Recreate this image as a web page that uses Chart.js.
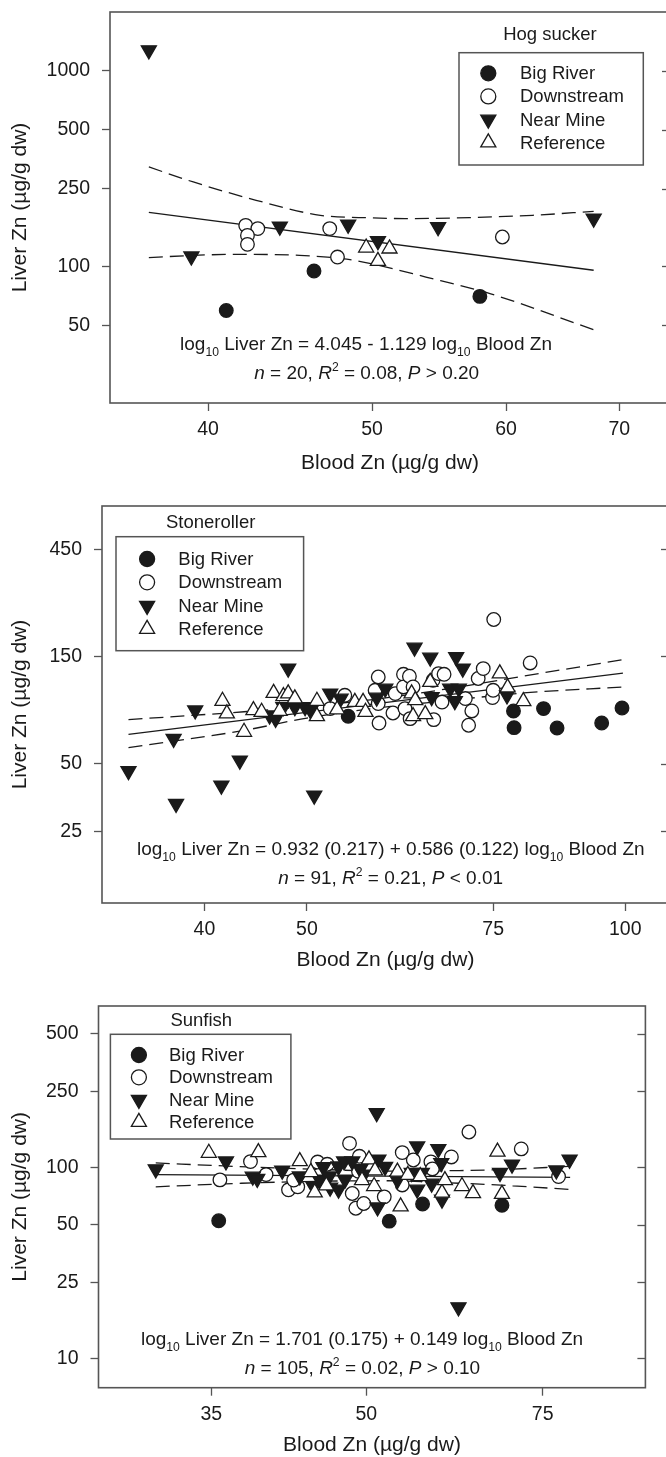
<!DOCTYPE html>
<html><head><meta charset="utf-8">
<script src="https://cdn.jsdelivr.net/npm/chart.js@4.4.1/dist/chart.umd.min.js"></script>
<style>
html,body{margin:0;padding:0;background:#fff;overflow:hidden;width:666px;height:1457px;position:relative;}
canvas{position:absolute;left:0;}
</style></head><body>
<canvas id="c1" width="680" height="485" style="top:0px;width:680px;height:485px"></canvas>
<canvas id="c2" width="680" height="490" style="top:485px;width:680px;height:490px"></canvas>
<canvas id="c3" width="680" height="482" style="top:975px;width:680px;height:482px"></canvas>
<script>
// ---------------- DATA: Hog sucker ----------------
const hogXTicks = [40, 50, 60, 70];
const hogYTicks = [50, 100, 250, 500, 1000];
const hogBigRiver = [[41.0,59.5],[46.2,94.6],[57.9,70.2]];
const hogDownstream = [[42.1,162],[42.8,156],[42.2,144],[42.2,129.6],[47.2,156],[47.7,111.6],[59.7,141.3]];
const hogNearMine = [[36.9,1276],[39.1,112.5],[44.1,160],[48.4,163.5],[50.4,134.8],[54.7,158.9],[67.6,175.5]];
const hogReference = [[49.6,124.6],[50.4,106.4],[51.2,123.2]];
const hogFit = [[36.9,189],[67.6,95.5]];
const hogUpper = [[36.9,322.5],[39.2,270.1],[42.7,217.8],[46.6,182.4],[49.4,177.6],[52.3,175.5],[57.1,177.6],[62.2,182.4],[67.6,191.2]];
const hogLower = [[36.9,110.8],[39.2,113.8],[41.5,115.2],[45.3,113.8],[48.0,109.5],[49.4,105.2],[53.8,88.2],[58.7,72.5],[67.6,47.4]];

// ---------------- DATA: Stoneroller ----------------
const stoneXTicks = [40, 50, 75, 100];
const stoneYTicks = [25, 50, 150, 450];
const stoneBigRiver = [[54.7,81.2],[78.4,85.8],[78.5,72.3],[83.7,87.9],[86.2,72.1],[95.0,75.8],[99.3,88.4]];
const stoneDownstream = [[52.6,87.9],[54.3,100.7],[58.0,106.0],[58.4,121.5],[58.4,92.5],[58.5,75.8],[60.3,84.0],[60.6,102.5],[61.7,124.9],[61.7,109.7],[61.9,87.9],[62.5,122.4],[62.6,79.3],[63.0,109.7],[65.8,117.5],[65.9,78.5],[66.6,125.8],[67.1,94.0],[67.4,124.9],[70.6,97.4],[71.1,74.1],[71.6,85.8],[72.6,119.6],[73.4,132.4],[74.9,98.4],[75.0,106.0],[75.1,218.9],[81.3,140.3]];
const stoneNearMine = [[33.9,46.4],[37.4,64.6],[37.6,33.2],[39.2,86.4],[41.5,40.0],[43.2,51.7],[46.1,82.0],[46.7,79.3],[47.5,89.3],[48.0,132.4],[48.7,89.3],[49.8,89.3],[50.4,86.4],[50.8,36.1],[52.6,102.5],[53.8,97.4],[58.2,98.4],[59.3,107.9],[63.2,164.3],[65.4,148.3],[65.6,99.0],[68.3,107.9],[69.0,95.0],[69.2,149.2],[69.6,107.9],[70.2,132.4],[77.3,100.7]];
const stoneReference = [[41.6,95.0],[42.0,83.5],[43.6,69.2],[44.5,86.4],[45.3,84.9],[46.5,103.1],[47.1,85.8],[47.5,99.7],[48.0,102.5],[48.7,97.4],[51.1,95.0],[51.1,81.2],[53.4,87.0],[55.5,94.0],[56.5,94.0],[56.8,84.9],[62.8,102.5],[63.0,81.2],[63.3,95.7],[64.7,82.9],[65.4,115.4],[76.1,125.8],[77.4,109.0],[80.1,94.7]];
const stoneFit = [[33.9,67.5],[99.5,126.4]];
const stoneUpper = [[33.9,78.5],[43.6,85.1],[50,89.8],[58,96.7],[68,107.7],[80,122.4],[99.5,145]];
const stoneLower = [[33.9,58.9],[43.6,70.3],[50,79.8],[58,88.2],[68,95.4],[80,103.1],[99.5,109.7]];

// ---------------- DATA: Sunfish ----------------
const sunXTicks = [35, 50, 75];
const sunYTicks = [10, 25, 50, 100, 250, 500];
const sunBigRiver = [[35.6,52.5],[52.7,52.2],[56.9,64.2],[68.3,63.3]];
const sunDownstream = [[35.7,85.9],[38.3,107.1],[39.7,91.6],[41.8,76.2],[42.7,79.0],[42.3,85.7],[44.7,106.5],[45.7,103.7],[48.1,133.5],[48.4,72.9],[48.8,61.0],[49.7,64.6],[52.1,70.0],[54.3,119.4],[54.3,80.8],[55.7,109.2],[58.0,106.8],[58.2,98.1],[60.8,113.3],[63.3,153.1],[71.4,124.8],[77.8,89.4],[49.1,95.3],[49.2,114.2]];
const sunNearMine = [[30.8,97.7],[36.2,107.5],[38.5,89.4],[38.9,87.0],[41.2,96.1],[42.9,89.7],[44.3,78.8],[44.9,86.3],[45.3,100.2],[45.9,89.7],[46.0,78.3],[46.9,101.2],[46.9,76.5],[47.6,86.3],[47.5,107.5],[48.4,107.5],[49.3,98.1],[49.7,91.6],[51.2,192.5],[51.3,61.7],[51.4,109.7],[52.2,100.5],[53.7,85.7],[55.5,93.5],[56.2,128.8],[56.2,76.5],[56.8,93.5],[58.1,82.2],[59.0,124.8],[59.4,105.4],[59.5,67.8],[61.8,18.5],[68.0,93.5],[69.9,103.3],[77.4,96.5],[79.8,109.7]];
const sunReference = [[34.8,118.9],[39.0,119.8],[42.9,107.5],[44.0,94.2],[44.4,73.8],[45.6,80.2],[49.5,85.5],[50.3,109.7],[51.0,96.1],[50.9,79.6],[53.7,94.7],[54.1,62.3],[55.0,91.1],[56.6,89.7],[59.5,73.5],[59.9,85.5],[62.3,79.6],[63.9,73.1],[67.6,120.5],[68.3,72.4]];
const sunFit = [[30.8,91.6],[79.9,88.6]];
const sunUpper = [[30.8,105.4],[36.8,101.2],[45,97.5],[52,95.5],[61.9,96.1],[68,97.2],[79.9,101.2]];
const sunLower = [[30.8,79.0],[37.5,82.5],[45,84.5],[52,85.0],[61.9,82.5],[70,80.0],[79.9,76.5]];

const seriesNames = ['Big River', 'Downstream', 'Near Mine', 'Reference'];

// ---------------- STYLE / RENDERING ----------------
const FONT = "'Liberation Sans', Arial, Helvetica, sans-serif";
const INK = '#1a1a1a';
const FRAME = '#555555';

const STYLE = {
  'Big River':  {pointStyle:'circle',   rotation:0,   radius:6.8, legendRadius:7.5, fill:INK,    stroke:INK},
  'Downstream': {pointStyle:'circle',   rotation:0,   radius:6.8, legendRadius:7.5, fill:'#fff', stroke:INK},
  'Near Mine':  {pointStyle:'triangle', rotation:180, radius:8.7, legendRadius:8.7, fill:INK,    stroke:INK},
  'Reference':  {pointStyle:'triangle', rotation:0,   radius:8.7, legendRadius:8.7, fill:'#fff', stroke:INK}
};

function pts(a){ return a.map(p => ({x:p[0], y:p[1]})); }

function drawRich(ctx, segs, cx, cy, size){
  const parts = segs.map(s => {
    const kind = s[1] || '';
    const small = (kind === 'sub' || kind === 'sup');
    const sz = small ? size * 0.64 : size;
    const font = (kind === 'i' ? 'italic ' : '') + sz + 'px ' + FONT;
    ctx.font = font;
    return {t:s[0], font, w:ctx.measureText(s[0]).width,
            dy: kind === 'sub' ? size * 0.32 : (kind === 'sup' ? -size * 0.42 : 0)};
  });
  const total = parts.reduce((a,p) => a + p.w, 0);
  let x = cx - total / 2;
  const base = cy + size * 0.36;
  ctx.textBaseline = 'alphabetic'; ctx.textAlign = 'left'; ctx.fillStyle = INK;
  parts.forEach(p => { ctx.font = p.font; ctx.fillText(p.t, x, base + p.dy); x += p.w; });
}

const deco = {
  id: 'deco',
  afterDraw(chart, args, o) {
    const ctx = chart.ctx, a = chart.chartArea;
    ctx.save();
    // inward ticks on right side
    const ys = chart.scales.y;
    ctx.strokeStyle = FRAME; ctx.lineWidth = 1.3;
    ys.ticks.forEach(t => {
      const p = Math.round(ys.getPixelForValue(t.value)) + 0.5;
      ctx.beginPath(); ctx.moveTo(a.right - 8, p); ctx.lineTo(a.right, p); ctx.stroke();
    });
    // frame
    ctx.lineWidth = 1.6; ctx.strokeStyle = FRAME;
    ctx.strokeRect(a.left, a.top, a.right - a.left, a.bottom - a.top);
    // legend
    const L = o.legend;
    ctx.font = '18.5px ' + FONT; ctx.fillStyle = INK;
    ctx.textAlign = 'center'; ctx.textBaseline = 'middle';
    ctx.fillText(L.title, L.titleX, L.titleY);
    ctx.fillStyle = '#fff';
    ctx.fillRect(L.box[0], L.box[1], L.box[2] - L.box[0], L.box[3] - L.box[1]);
    ctx.lineWidth = 1.5; ctx.strokeStyle = FRAME;
    ctx.strokeRect(L.box[0], L.box[1], L.box[2] - L.box[0], L.box[3] - L.box[1]);
    seriesNames.forEach((name, i) => {
      const ds = chart.data.datasets.find(d => d.label === name);
      const y = L.rows[i];
      ctx.fillStyle = ds.pointBackgroundColor; ctx.strokeStyle = ds.pointBorderColor; ctx.lineWidth = ds.pointBorderWidth;
      Chart.helpers.drawPoint(ctx, {pointStyle: ds.pointStyle, rotation: ds.pointRotation, radius: STYLE[name].legendRadius, borderWidth: ds.pointBorderWidth}, L.markerX, y);
      ctx.fillStyle = INK; ctx.font = '18.5px ' + FONT; ctx.textAlign = 'left'; ctx.textBaseline = 'middle';
      ctx.fillText(name, L.textX, y + 1);
    });
    // equation text
    o.eq.forEach(e => drawRich(ctx, e.segs, e.x, e.y, 19));
    ctx.restore();
  }
};

function build(id, W, H, area, sp){
  const datasets = [];
  const groups = {'Reference': sp.reference, 'Near Mine': sp.nearMine, 'Downstream': sp.downstream, 'Big River': sp.bigRiver};
  ['Reference','Near Mine','Downstream','Big River'].forEach(name => {
    const s = STYLE[name];
    datasets.push({label:name, data:pts(groups[name]), showLine:false,
      pointStyle:s.pointStyle, pointRotation:s.rotation, pointRadius:s.radius,
      pointBackgroundColor:s.fill, pointBorderColor:s.stroke, pointBorderWidth:1.3,
      pointHoverRadius:s.radius});
  });
  const lineDs = (label, data, dash, curved) => ({label, data:pts(data), showLine:true, pointRadius:0,
    borderColor:INK, borderWidth:1.3, borderDash:dash, fill:false,
    cubicInterpolationMode: curved ? 'monotone' : 'default', tension:0});
  datasets.push(lineDs('fit', sp.fit, [], false));
  datasets.push(lineDs('upper', sp.upper, [14,7], true));
  datasets.push(lineDs('lower', sp.lower, [14,7], true));

  const tickFont = {family:FONT, size:19.5};
  const titleFont = {family:FONT, size:21, lineHeight:1};
  const zeroPad = s => { s.paddingTop = 0; s.paddingBottom = 0; s.paddingLeft = 0; s.paddingRight = 0; };

  return new Chart(document.getElementById(id), {
    type:'scatter',
    data:{datasets},
    options:{
      responsive:false, animation:false, devicePixelRatio:1,
      events:[],
      layout:{padding:{left:0, top:area.top, right:W - area.right, bottom:0}},
      plugins:{legend:{display:false}, tooltip:{enabled:false}, deco:{legend:sp.legend, eq:sp.eq}},
      scales:{
        x:{type:'logarithmic', position:'bottom', min:sp.xMin, max:sp.xMax,
          afterBuildTicks: s => { s.ticks = sp.xTicks.map(v => ({value:v})); },
          afterFit: s => { s.height = H - area.bottom; zeroPad(s); },
          ticks:{autoSkip:false, maxRotation:0, minRotation:0, padding:7.4, font:tickFont, color:INK, callback: v => String(v)},
          grid:{drawOnChartArea:false, drawTicks:true, tickLength:8, tickColor:FRAME, tickWidth:1.3, color:FRAME},
          border:{display:false},
          title:{display:true, text:'Blood Zn (µg/g dw)', font:titleFont, color:INK, padding:{top:0, bottom:sp.xTitlePad}}
        },
        y:{type:'logarithmic', position:'left', min:sp.yMin, max:sp.yMax,
          afterBuildTicks: s => { s.ticks = sp.yTicks.map(v => ({value:v})); },
          afterFit: s => { s.width = area.left; zeroPad(s); },
          ticks:{autoSkip:false, padding:12, font:tickFont, color:INK, callback: v => String(v)},
          grid:{drawOnChartArea:false, drawTicks:true, tickLength:8, tickColor:FRAME, tickWidth:1.3, color:FRAME},
          border:{display:false},
          title:{display:true, text:'Liver Zn (µg/g dw)', font:titleFont, color:INK, padding:{top:10, bottom:0}}
        }
      }
    },
    plugins:[deco]
  });
}

const statLine = (n, r2, p) => [['n','i'],[' = ' + n + ', '],['R','i'],['2','sup'],[' = ' + r2 + ', '],['P','i'],[' ' + p]];

build('c1', 680, 485, {left:110, top:12, right:670, bottom:403}, {
  xMin:35, xMax:75, yMin:20, yMax:2000, xTicks:hogXTicks, yTicks:hogYTicks,
  bigRiver:hogBigRiver, downstream:hogDownstream, nearMine:hogNearMine, reference:hogReference,
  fit:hogFit, upper:hogUpper, lower:hogLower, xTitlePad:11.2,
  legend:{title:'Hog sucker', titleX:550, titleY:35, box:[459,52.7,643.3,165], rows:[73.3,96.4,119.5,142.6], markerX:488.3, textX:520},
  eq:[{x:366, y:342.7, segs:[['log'],['10','sub'],[' Liver Zn = 4.045 - 1.129 log'],['10','sub'],[' Blood Zn']]},
      {x:366.7, y:371.7, segs:statLine('20','0.08','> 0.20')}]
});

build('c2', 680, 490, {left:102, top:21, right:669, bottom:418}, {
  xMin:32, xMax:110, yMin:12, yMax:700, xTicks:stoneXTicks, yTicks:stoneYTicks,
  bigRiver:stoneBigRiver, downstream:stoneDownstream, nearMine:stoneNearMine, reference:stoneReference,
  fit:stoneFit, upper:stoneUpper, lower:stoneLower, xTitlePad:4.5,
  legend:{title:'Stoneroller', titleX:210.7, titleY:37.7, box:[116,51.7,303.6,165.7], rows:[74,97.3,120.7,144], markerX:147.1, textX:178.3},
  eq:[{x:390.8, y:363.3, segs:[['log'],['10','sub'],[' Liver Zn = 0.932 (0.217) + 0.586 (0.122) log'],['10','sub'],[' Blood Zn']]},
      {x:390.6, y:391.7, segs:statLine('91','0.21','< 0.01')}]
});

build('c3', 680, 482, {left:98.5, top:31, right:645.4, bottom:412.7}, {
  xMin:27, xMax:95, yMin:7, yMax:700, xTicks:sunXTicks, yTicks:sunYTicks,
  bigRiver:sunBigRiver, downstream:sunDownstream, nearMine:sunNearMine, reference:sunReference,
  fit:sunFit, upper:sunUpper, lower:sunLower, xTitlePad:1.5,
  legend:{title:'Sunfish', titleX:201.3, titleY:46, box:[110.4,59.3,290.9,164], rows:[80,102.3,124.7,147], markerX:138.9, textX:169},
  eq:[{x:362, y:363.3, segs:[['log'],['10','sub'],[' Liver Zn = 1.701 (0.175) + 0.149 log'],['10','sub'],[' Blood Zn']]},
      {x:362.4, y:391.7, segs:statLine('105','0.02','> 0.10')}]
});
</script>
</body></html>
